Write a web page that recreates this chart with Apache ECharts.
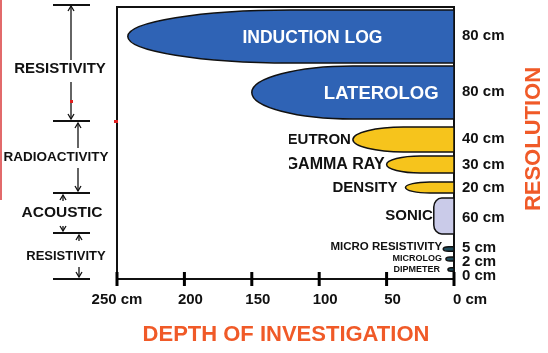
<!DOCTYPE html>
<html>
<head>
<meta charset="utf-8">
<script src="https://cdn.jsdelivr.net/npm/echarts@6/dist/echarts.min.js"></script>
<style>
  html, body { margin: 0; padding: 0; background: #fff; }
  #chart { width: 548px; height: 353px; }
</style>
</head>
<body>
<div id="chart"></div>
<script>
// logging tools, depth of investigation (cm) and vertical resolution (cm)
const tools = ['INDUCTION LOG', 'LATEROLOG', 'NEUTRON', 'GAMMA RAY', 'DENSITY', 'SONIC',
  'MICRO RESISTIVITY', 'MICROLOG', 'DIPMETER'];
const depthCm = [242, 150, 75, 50, 36, 15, 8, 6, 4.5];
const resolutionCm = [80, 80, 40, 30, 20, 60, 5, 2, 0];
const depthTicks = [250, 200, 150, 100, 50, 0];
const groups = ['RESISTIVITY', 'RADIOACTIVITY', 'ACOUSTIC', 'RESISTIVITY'];

// layout: vertical bands on the hidden y axis (0 = top of plot)
const bandTop = [3, 59, 120, 149, 175, 191, 239.75, 250, 260.75];
const bandBot = [56, 112, 145, 166, 186, 227, 244.25, 254, 264.25];
const resLabelY = [29, 85, 132, 158, 181, 211, 241, 255, 269];
const fills = ['#2f63b5', '#2f63b5', '#f6c41c', '#f6c41c', '#f6c41c', '#cacbe9', '#1f4c5c', '#1f4c5c', '#1f4c5c'];
const labelInsideAt = [105, 54, null, null, null, null, null, null, null]; // x-axis units
const labelGap = [0, 0, 2, 2, 8, 1, 1, 4, 8];
const labelSize = [17.5, 18.5, 15, 16, 15, 15, 11.5, 9, 9];
const labelDy = [1.5, 1.5, 0, 0, 0, 0, -2.5, 0, 0];

const FONT = '"Liberation Sans", Arial, sans-serif';
const ORANGE = '#f05a28';
const Y_MAX = 272;

const chart = echarts.init(document.getElementById('chart'));

function bulletPath(x0, x1, yt, yb, rx, ry) {
  const k = 0.5523;
  const ym = (yt + yb) / 2;
  let p = 'M' + x1 + ',' + yt + ' L' + (x0 + rx) + ',' + yt;
  p += ' C' + (x0 + rx - k * rx) + ',' + yt + ' ' + x0 + ',' + (yt + ry - k * ry) + ' ' + x0 + ',' + (yt + ry);
  if (yt + ry < ym) p += ' L' + x0 + ',' + (yb - ry);
  p += ' C' + x0 + ',' + (yb - ry + k * ry) + ' ' + (x0 + rx - k * rx) + ',' + yb + ' ' + (x0 + rx) + ',' + yb;
  p += ' L' + x1 + ',' + yb + ' Z';
  return p;
}

function renderTool(params, api) {
  const i = params.dataIndex;
  const x0 = api.coord([api.value(0), 0])[0];
  const x1 = api.coord([0, 0])[0];
  const yt = api.coord([0, bandTop[i]])[1];
  const yb = api.coord([0, bandBot[i]])[1];
  const h = yb - yt;
  let rx = (x1 - x0) * 0.5, ry = h / 2;
  if (tools[i] === 'SONIC') { rx = 8; ry = 9; }
  const children = [{
    type: 'path',
    shape: { pathData: bulletPath(x0, x1, yt, yb, rx, ry) },
    style: { fill: fills[i], stroke: '#111', lineWidth: 1.5 }
  }];
  const ym = (yt + yb) / 2 + labelDy[i];
  if (labelInsideAt[i] != null) {
    children.push({
      type: 'text',
      style: {
        text: tools[i], x: api.coord([labelInsideAt[i], 0])[0], y: ym,
        align: 'center', verticalAlign: 'middle', fill: '#fff',
        font: 'bold ' + labelSize[i] + 'px ' + FONT
      }
    });
  } else {
    children.push({
      type: 'text',
      style: {
        text: tools[i], x: x0 - labelGap[i], y: ym,
        align: 'right', verticalAlign: 'middle', fill: '#111',
        font: 'bold ' + labelSize[i] + 'px ' + FONT
      }
    });
  }
  // resolution label on the right
  children.push({
    type: 'text',
    style: {
      text: resolutionCm[i] + ' cm', x: x1 + 8, y: api.coord([0, resLabelY[i]])[1],
      align: 'left', verticalAlign: 'middle', fill: '#111',
      font: 'bold 15px ' + FONT
    }
  });
  return { type: 'group', children: children };
}

// left-side group brackets
function arrow(x, yFrom, yTo) {
  const d = yTo < yFrom ? 5 : -5;
  return [
    { type: 'line', shape: { x1: x, y1: yFrom, x2: x, y2: yTo }, style: { stroke: '#111', lineWidth: 1.3 } },
    { type: 'polyline', shape: { points: [[x - 3, yTo + d], [x, yTo], [x + 3, yTo + d]] }, style: { stroke: '#111', fill: null, lineWidth: 1.3 } }
  ];
}
function groupText(txt, x, y, size) {
  return { type: 'text', style: { text: txt, x: x, y: y, align: 'center', verticalAlign: 'middle', fill: '#111', font: 'bold ' + size + 'px ' + FONT } };
}
let left = [];
[5, 121, 193, 233, 279].forEach(function (y) {
  left.push({ type: 'line', shape: { x1: 53, y1: y, x2: 90, y2: y }, style: { stroke: '#111', lineWidth: 2 } });
});
left = left.concat(arrow(71, 60, 6), arrow(71, 82, 119), arrow(78, 148, 123), arrow(78, 168, 191),
  arrow(63, 201, 195), arrow(63, 226, 231), arrow(79, 241, 235), arrow(79, 267, 277));
left.push(groupText(groups[0], 60, 69, 15));
left.push(groupText(groups[1], 56, 157, 13.5));
left.push(groupText(groups[2], 62, 213, 15.5));
left.push(groupText(groups[3], 66, 256, 13));
// stray red marks from the source image
left.push({ type: 'line', shape: { x1: 1, y1: 0, x2: 1, y2: 200 }, style: { stroke: '#d9383a', lineWidth: 1.5 } });
left.push({ type: 'rect', shape: { x: 70, y: 100, width: 3, height: 3 }, style: { fill: '#e02020' } });
left.push({ type: 'rect', shape: { x: 114, y: 120, width: 4, height: 3 }, style: { fill: '#e02020' }, z: 110 });
// the source crops the left of "NEUTRON" / "GAMMA RAY"
left.push({ type: 'rect', shape: { x: 255, y: 125, width: 34, height: 52 }, style: { fill: '#fff' }, z: 100 });
left.push({ type: 'text', style: { text: 'DEPTH OF INVESTIGATION', x: 286, y: 335, align: 'center', verticalAlign: 'middle', fill: ORANGE, font: 'bold 22px ' + FONT } });
left.push({ type: 'text', rotation: Math.PI / 2, x: 534, y: 139, style: { text: 'RESOLUTION', x: 0, y: 0, align: 'center', verticalAlign: 'middle', fill: ORANGE, font: 'bold 22px ' + FONT } });

const tickRich = {
  n: { fontSize: 15, fontWeight: 'bold', fontFamily: FONT, color: '#111' },
  m: { fontSize: 15, fontWeight: 'bold', fontFamily: FONT, color: '#111', padding: [0, 0, 0, 12] },
  z: { fontSize: 15, fontWeight: 'bold', fontFamily: FONT, color: '#111', padding: [0, 0, 0, 32] }
};

chart.setOption({
  backgroundColor: '#fff',
  animation: false,
  grid: { left: 117, right: 94, top: 7, bottom: 74, show: true, borderColor: '#111', borderWidth: 2, backgroundColor: '#fff' },
  xAxis: {
    type: 'value', min: 0, max: 250, interval: 50, inverse: true, position: 'bottom',
    splitLine: { show: false },
    axisLine: { show: true, onZero: false, lineStyle: { color: '#111', width: 2 } },
    axisTick: { show: false },
    axisLabel: {
      margin: 13, rich: tickRich,
      formatter: function (v) {
        if (depthTicks.indexOf(v) < 0) return '';
        if (v === 250) return '{n|' + v + ' cm}';
        if (v === 0) return '{z|' + v + ' cm}';
        return '{m|' + v + '}';
      }
    }
  },
  yAxis: { type: 'value', min: 0, max: Y_MAX, inverse: true, show: false },
  series: [{
    type: 'custom',
    clip: false,
    renderItem: renderTool,
    encode: { x: 0, y: 1 },
    data: depthCm.map(function (d, i) { return [d, i]; })
  }],
  graphic: left
});

// tick marks crossing the depth axis, placed through the axis scale
const ticks = depthTicks.map(function (t) {
  const p = chart.convertToPixel({ gridIndex: 0 }, [t, Y_MAX]);
  return {
    type: 'rect', z: 120,
    shape: { x: p[0] - 1.5, y: p[1] - 7, width: 3, height: 14 },
    style: { fill: '#000' }
  };
});
chart.setOption({ graphic: left.concat(ticks) });
</script>
</body>
</html>
